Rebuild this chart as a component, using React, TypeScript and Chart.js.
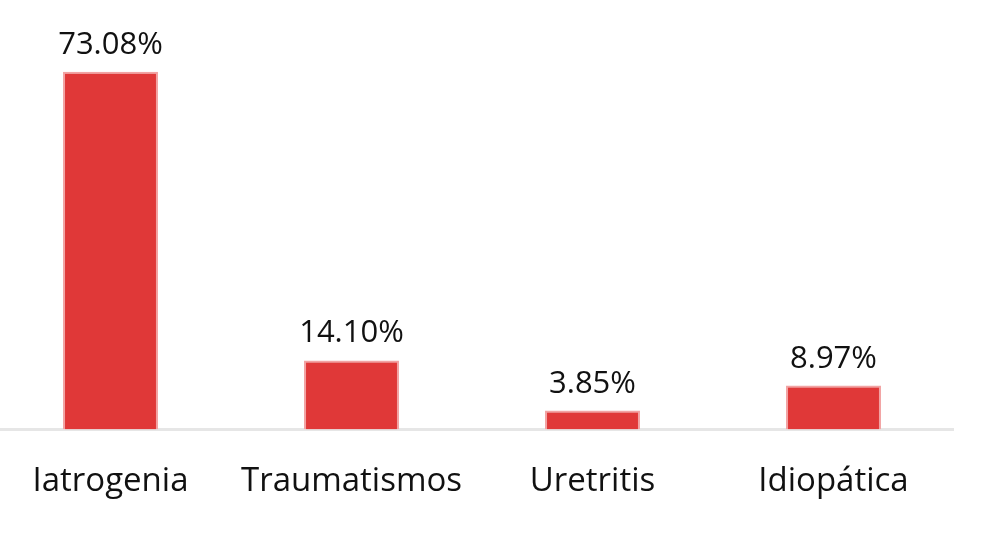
import React, { useEffect, useRef } from "react";
import { Chart, registerables } from "chart.js";

Chart.register(...registerables);

const categories = ["Iatrogenia", "Traumatismos", "Uretritis", "Idiopática"];
const values = [73.08, 14.1, 3.85, 8.97];
const valueLabels = ["73.08%", "14.10%", "3.85%", "8.97%"];

const FONT = "'Open Sans', sans-serif";

const valueLabelPlugin = {
  id: "valueLabels",
  afterDatasetsDraw(chart: any) {
    const ctx = chart.ctx;
    const meta = chart.getDatasetMeta(0);
    ctx.save();
    ctx.font = `31px ${FONT}`;
    ctx.fillStyle = "#111111";
    ctx.textAlign = "center";
    ctx.textBaseline = "alphabetic";
    meta.data.forEach((bar: any, i: number) => {
      ctx.fillText(valueLabels[i], bar.x, bar.y - 18);
    });
    ctx.restore();
  },
};

export default function App() {
  const ref = useRef<HTMLCanvasElement | null>(null);
  useEffect(() => {
    if (!ref.current) return;
    const chart = new Chart(ref.current, {
      type: "bar",
      data: {
        labels: categories,
        datasets: [
          {
            data: values,
            backgroundColor: "#e03838",
            borderColor: "#f2a3a3",
            borderWidth: 2,
            borderSkipped: "bottom",
            barPercentage: 0.394,
            categoryPercentage: 1,
          },
        ],
      },
      options: {
        animation: false,
        responsive: false,
        maintainAspectRatio: false,
        layout: { padding: { top: 38, bottom: 0, left: 0, right: 0 } },
        plugins: { legend: { display: false }, tooltip: { enabled: false } },
        scales: {
          y: { display: false, min: 0, max: 80 },
          x: {
            grid: { display: false, drawTicks: false },
            border: { display: true, color: "#e6e6e6", width: 3 },
            ticks: {
              color: "#111111",
              font: { family: FONT, size: 33 },
              padding: 32,
            },
          },
        },
      },
      plugins: [valueLabelPlugin],
    });
    return () => chart.destroy();
  }, []);
  return (
    <div style={{ position: "fixed", left: -10, top: 0, width: 964, height: 533, background: "#fff" }}>
      <canvas ref={ref} width={964} height={533} style={{ width: 964, height: 533 }} />
    </div>
  );
}
